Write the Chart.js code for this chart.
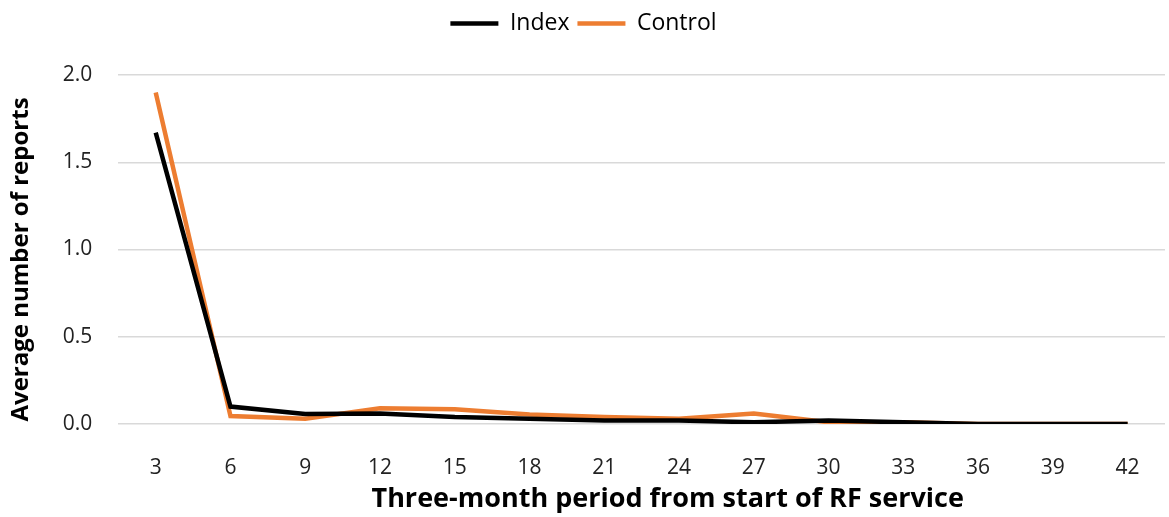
<!DOCTYPE html>
<html>
<head>
<meta charset="utf-8">
<script src="https://cdn.jsdelivr.net/npm/chart.js@4"></script>
<style>
  html, body { margin: 0; padding: 0; background: #fff; }
  #wrap { width: 1169px; height: 517px; position: relative; }
</style>
</head>
<body>
<div id="wrap"><canvas id="reportsChart"></canvas></div>
<script>
// Three-month periods
const periods = ['3', '6', '9', '12', '15', '18', '21', '24', '27', '30', '33', '36', '39', '42'];
const indexValues = [1.67, 0.10, 0.057, 0.06, 0.04, 0.03, 0.02, 0.02, 0.01, 0.02, 0.01, 0.0, 0.0, 0.0];
const controlValues = [1.90, 0.046, 0.03, 0.09, 0.085, 0.055, 0.04, 0.03, 0.06, 0.01, 0.01, 0.0, 0.0, 0.0];
const yTicks = [0, 0.5, 1.0, 1.5, 2.0];
const xTitle = 'Three-month period from start of RF service';
const yTitle = 'Average number of reports';

const font = '"Open Sans", "Noto Sans", sans-serif';

// extra room under the legend
const legendGap = {
  id: 'legendGap',
  beforeInit(chart) {
    const fit = chart.legend.fit;
    chart.legend.fit = function () {
      fit.bind(chart.legend)();
      this.height += 30;
    };
  }
};

// axis titles drawn where Excel puts them (slightly off-centre)
const axisTitles = {
  id: 'axisTitles',
  afterDraw(chart) {
    const c = chart.ctx;
    const area = chart.chartArea;
    c.save();
    c.fillStyle = '#000';
    c.textAlign = 'center';
    c.textBaseline = 'middle';
    c.font = 'bold 27px ' + font;
    c.fillText(xTitle, area.left + (area.right - area.left) / 2 + 26, 499);
    c.font = 'bold 24px ' + font;
    c.translate(21, area.top + (area.bottom - area.top) / 2 + 10);
    c.rotate(-Math.PI / 2);
    c.fillText(yTitle, 0, 0);
    c.restore();
  }
};

const ctx = document.getElementById('reportsChart').getContext('2d');
new Chart(ctx, {
  type: 'line',
  data: {
    labels: periods,
    datasets: [
      {
        label: 'Index',
        data: indexValues,
        borderColor: '#000000',
        backgroundColor: '#000000',
        borderWidth: 4.5,
        pointRadius: 0,
        tension: 0
      },
      {
        label: 'Control',
        data: controlValues,
        borderColor: '#ed7d31',
        backgroundColor: '#ed7d31',
        borderWidth: 4.5,
        pointRadius: 0,
        tension: 0
      }
    ]
  },
  plugins: [legendGap, axisTitles],
  options: {
    responsive: true,
    maintainAspectRatio: false,
    animation: false,
    layout: { padding: { left: 2, right: 4, top: 4, bottom: 0 } },
    plugins: {
      legend: {
        position: 'top',
        labels: {
          usePointStyle: true,
          pointStyle: 'line',
          pointStyleWidth: 48,
          boxHeight: 5,
          color: '#000',
          font: { family: font, size: 23 },
          padding: 8
        }
      },
      tooltip: { enabled: false }
    },
    scales: {
      x: {
        offset: true,
        grid: { display: false },
        border: { display: false },
        afterFit: axis => { axis.height = 93; },
        ticks: { color: '#222', font: { family: font, size: 21 }, padding: 23 },
        title: { display: false }
      },
      y: {
        min: 0,
        max: 2.0,
        afterBuildTicks: axis => { axis.ticks = yTicks.map(v => ({ value: v })); },
        grid: { color: '#d9d9d9', lineWidth: 1.5, drawTicks: false },
        border: { display: false },
        ticks: {
          color: '#222',
          font: { family: font, size: 21 },
          padding: 26,
          callback: v => v.toFixed(1)
        },
        title: {
          display: true,
          text: yTitle,
          color: 'rgba(0,0,0,0)',
          font: { family: font, size: 24, weight: 'bold' },
          padding: { bottom: 2 }
        }
      }
    }
  }
});
</script>
</body>
</html>
